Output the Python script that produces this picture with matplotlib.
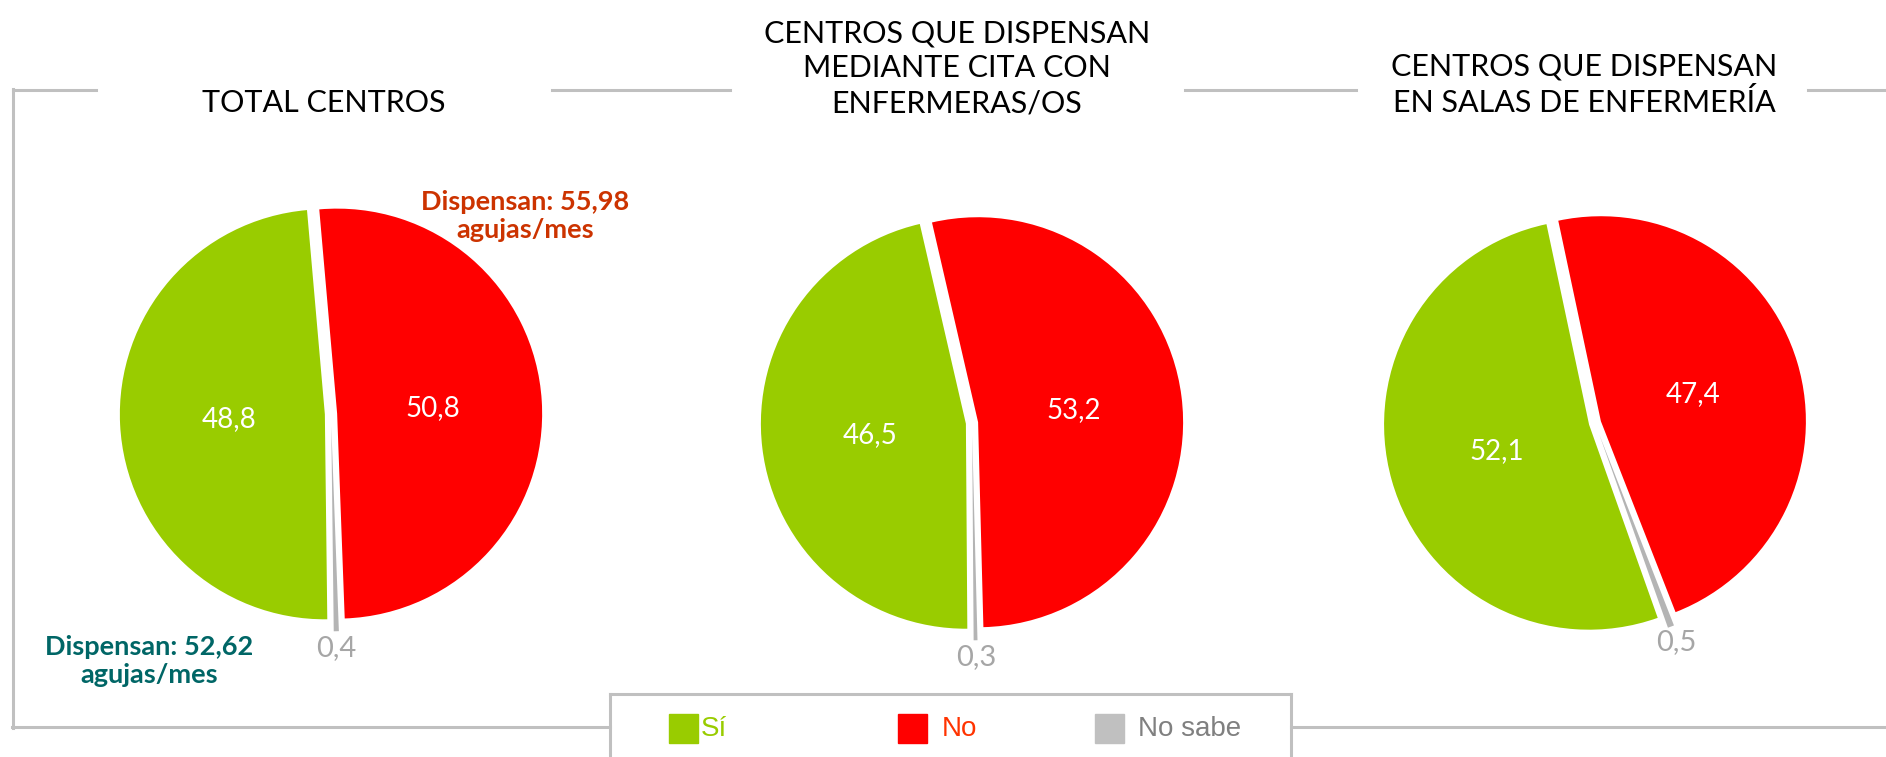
import numpy as np
import matplotlib
matplotlib.use('Agg')
import matplotlib.pyplot as plt
from matplotlib.lines import Line2D
from matplotlib.patches import Rectangle

# 1) Data

titles = ['TOTAL CENTROS',
          'CENTROS QUE DISPENSAN\nMEDIANTE CITA CON\nENFERMERAS/OS',
          'CENTROS QUE DISPENSAN\nEN SALAS DE ENFERMERÍA']
categories = ['Sí', 'No', 'No sabe']
si_values = [48.8, 46.5, 52.1]
no_values = [50.8, 53.2, 47.4]
nosabe_values = [0.4, 0.3, 0.5]
si_labels = ['48,8', '46,5', '52,1']
no_labels = ['50,8', '53,2', '47,4']
nosabe_labels = ['0,4', '0,3', '0,5']
note_no = 'Dispensan: 55,98\nagujas/mes'
note_si = 'Dispensan: 52,62\nagujas/mes'

# 2) Style

colors = {'Sí': '#99CC00', 'No': '#FF0000', 'No sabe': '#B4B4B4'}
legend_colors = {'Sí': '#99CC00', 'No': '#FF0000', 'No sabe': '#C0C0C0'}
legend_text_colors = {'Sí': '#99CC00', 'No': '#FF3300', 'No sabe': '#808080'}
frame_color = '#C0C0C0'
start_angles = [95, 103, 102]
centers = [(331, 414), (972, 423), (1595, 423)]   # pixels
title_x = [324, 957, 1584]
R = 205
W, H = 1886, 757

plt.rcParams['font.family'] = ['Lato', 'DejaVu Sans']

fig = plt.figure(figsize=(W / 100, H / 100), dpi=100)


def fx(x):
    return x / W


def fy(y):
    return 1 - y / H


# 3) Frame lines
def hline(x0, x1, y):
    fig.add_artist(Line2D([fx(x0), fx(x1)], [fy(y), fy(y)], color=frame_color, lw=2.2))


def vline(x, y0, y1):
    fig.add_artist(Line2D([fx(x), fx(x)], [fy(y0), fy(y1)], color=frame_color, lw=2.2))


hline(13, 96, 90)
hline(552, 730, 90)
hline(1185, 1356, 90)
hline(1808, W, 90)
vline(13, 89, 728)
hline(12, 610, 727)
hline(1291, W, 727)
# legend box
vline(610, 694, H)
vline(1291, 694, H)
hline(610, 1291, 694)

# 4) Pies (counter-clockwise: Sí, No sabe, No)
L = 1.25
order = ['Sí', 'No sabe', 'No']
for i in range(3):
    cx, cy = centers[i]
    side = 2 * L * R
    ax = fig.add_axes([fx(cx - side / 2), fy(cy + side / 2), side / W, side / H])
    vals = {'Sí': si_values[i], 'No': no_values[i], 'No sabe': nosabe_values[i]}
    labs = {'Sí': si_labels[i], 'No': no_labels[i], 'No sabe': nosabe_labels[i]}
    wedges, _ = ax.pie([vals[c] for c in order], colors=[colors[c] for c in order],
                       startangle=start_angles[i], counterclock=True,
                       explode=[0.03, 0.06, 0.03], wedgeprops=dict(linewidth=0))
    ax.set_xlim(-L, L)
    ax.set_ylim(-L, L)
    ax.set_aspect('equal')
    ax.axis('off')
    for c, w in zip(order, wedges):
        mid = np.deg2rad((w.theta1 + w.theta2) / 2)
        ox, oy = w.center
        if c == 'No sabe':
            d, col, fs = 1.08, '#A6A6A6', 21
        else:
            d, col, fs = 0.47, 'white', 20
        ax.text(ox + d * np.cos(mid), oy + d * np.sin(mid), labs[c],
                ha='center', va='center', color=col, fontsize=fs)
    fig.text(fx(title_x[i]), fy(117), titles[i], ha='center', va='bottom', fontsize=22,
             color='black', linespacing=1.3)

# 5) Notes
fig.text(fx(525), fy(216), note_no, ha='center', va='center', fontsize=19.5,
         fontweight='bold', color='#CC3300', linespacing=1.2)
fig.text(fx(149), fy(661), note_si, ha='center', va='center', fontsize=19.5,
         fontweight='bold', color='#006666', linespacing=1.2)

# 6) Legend
sq_x = [669, 898, 1095]
txt_x = [701, 942, 1138]
for k, c in enumerate(categories):
    fig.add_artist(Rectangle((fx(sq_x[k]), fy(743)), 29 / W, 29 / H,
                             transform=fig.transFigure, color=legend_colors[c]))
    fig.text(fx(txt_x[k]), fy(729), c, ha='left', va='center', fontsize=20,
             color=legend_text_colors[c], family=['Liberation Sans', 'DejaVu Sans'])

fig.savefig('out.png', dpi=100)
